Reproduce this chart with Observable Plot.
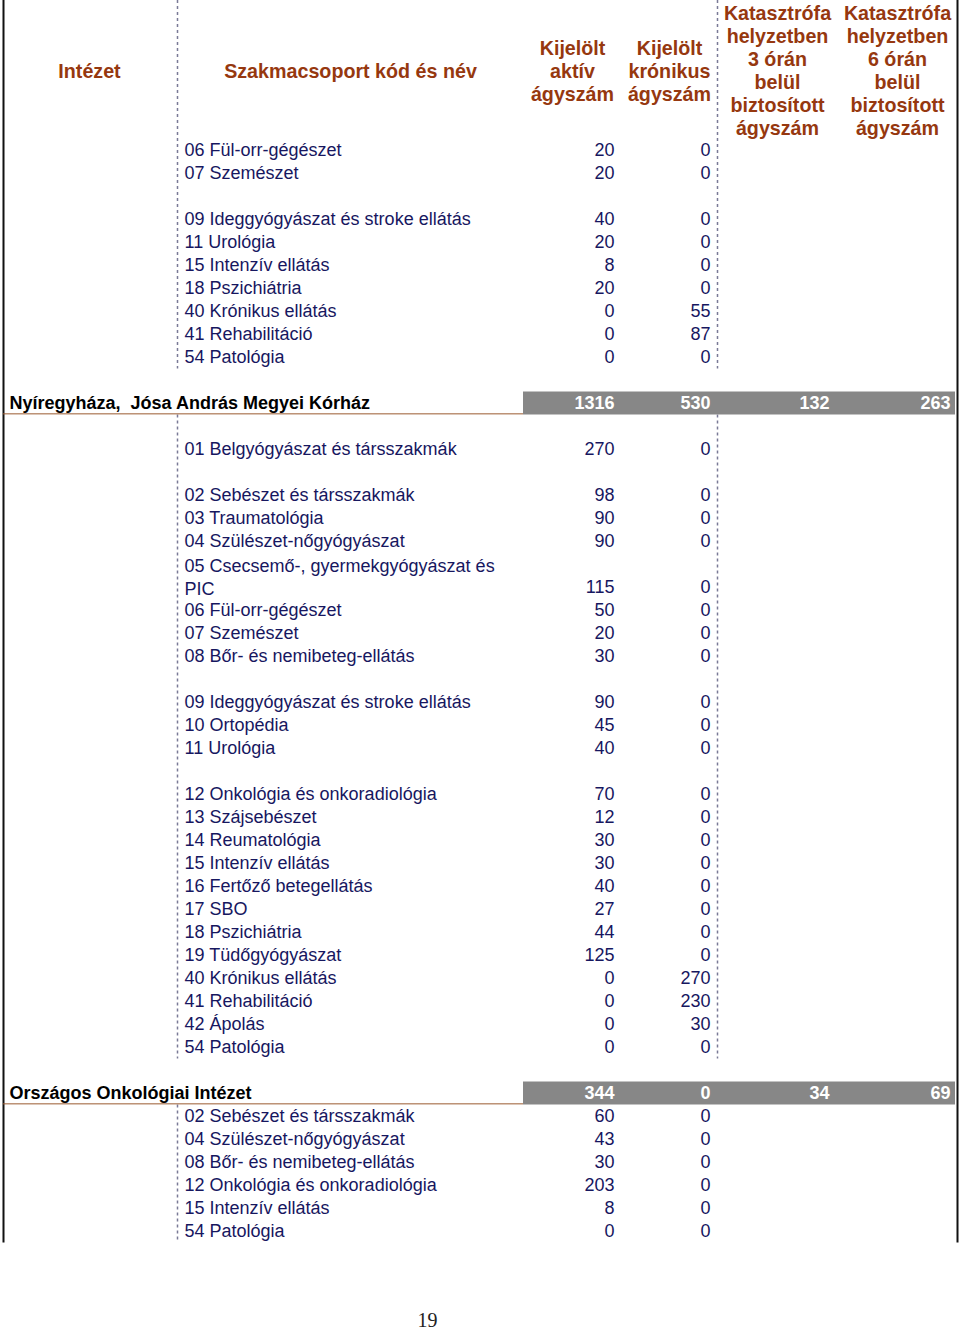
<!DOCTYPE html>
<html><head><meta charset="utf-8">
<script src="https://cdn.jsdelivr.net/npm/d3@7"></script>
<script src="https://cdn.jsdelivr.net/npm/@observablehq/plot@0.6"></script>
<style>
body{margin:0;background:#fff;}
svg text{white-space:pre;}
</style></head><body><div id="chart"></div>
<script>
// ---------- DATA ----------
const fejlecek = ["Intézet", "Szakmacsoport kód és név", "Kijelölt\naktív\nágyszám", "Kijelölt\nkrónikus\nágyszám",
  "Katasztrófa\nhelyzetben\n3 órán\nbelül\nbiztosított\nágyszám", "Katasztrófa\nhelyzetben\n6 órán\nbelül\nbiztosított\nágyszám"];

const intezetek = ["Nyíregyháza,  Jósa András Megyei Kórház", "Országos Onkológiai Intézet"];
const intezetAktiv = [1316, 344];
const intezetKronikus = [530, 0];
const intezetKat3 = [132, 34];
const intezetKat6 = [263, 69];

// "" = empty row of the table
const szakmak1 = ["06 Fül-orr-gégészet", "07 Szemészet", "", "09 Ideggyógyászat és stroke ellátás", "11 Urológia",
  "15 Intenzív ellátás", "18 Pszichiátria", "40 Krónikus ellátás", "41 Rehabilitáció", "54 Patológia"];
const aktiv1 = [20, 20, null, 40, 20, 8, 20, 0, 0, 0];
const kronikus1 = [0, 0, null, 0, 0, 0, 0, 55, 87, 0];

const szakmak2 = ["", "01 Belgyógyászat és társszakmák", "", "02 Sebészet és társszakmák", "03 Traumatológia",
  "04 Szülészet-nőgyógyászat", "05 Csecsemő-, gyermekgyógyászat és PIC", "06 Fül-orr-gégészet", "07 Szemészet",
  "08 Bőr- és nemibeteg-ellátás", "", "09 Ideggyógyászat és stroke ellátás", "10 Ortopédia", "11 Urológia", "",
  "12 Onkológia és onkoradiológia", "13 Szájsebészet", "14 Reumatológia", "15 Intenzív ellátás",
  "16 Fertőző betegellátás", "17 SBO", "18 Pszichiátria", "19 Tüdőgyógyászat", "40 Krónikus ellátás",
  "41 Rehabilitáció", "42 Ápolás", "54 Patológia"];
const aktiv2 = [null, 270, null, 98, 90, 90, 115, 50, 20, 30, null, 90, 45, 40, null, 70, 12, 30, 30, 40, 27, 44, 125, 0, 0, 0, 0];
const kronikus2 = [null, 0, null, 0, 0, 0, 0, 0, 0, 0, null, 0, 0, 0, null, 0, 0, 0, 0, 0, 0, 0, 0, 270, 230, 30, 0];

const szakmak3 = ["02 Sebészet és társszakmák", "04 Szülészet-nőgyógyászat", "08 Bőr- és nemibeteg-ellátás",
  "12 Onkológia és onkoradiológia", "15 Intenzív ellátás", "54 Patológia"];
const aktiv3 = [60, 43, 30, 203, 8, 0];
const kronikus3 = [0, 0, 0, 0, 0, 0];

const oldalszam = "19";

// ---------- LAYOUT ----------
const COL = {left: 3, right: 957, intezetHead: 89, name: 9, divCode: 177, code: 184, codeHead: 350,
  aktiv: 614, aktivHead: 572, kron: 710, kronHead: 669, divKat: 717, kat3: 829, kat3Head: 777,
  kat6: 950, kat6Head: 897, barLeft: 523, barRight: 955, page: 427};
const TOP_ROW = -150 / 23, HEAD_ROW = -80 / 23, PAGE_ROW = 1170 / 23;
const NAVY = "#17175f", BROWN = "#96380f", GREY = "#878787", LINE = "#9a5a30", DOT = "#7a7a96";
const FONT = "Liberation Sans, Arial, Helvetica, sans-serif";

function wrap(s, max) {
  const words = s.split(" "), lines = [];
  let cur = "";
  for (const w of words) {
    if (cur && (cur + " " + w).length > max) { lines.push(cur); cur = w; }
    else cur = cur ? cur + " " + w : w;
  }
  lines.push(cur);
  return lines;
}

const sections = [
  {intezet: null, names: szakmak1, aktiv: aktiv1, kron: kronikus1, katVonal: true},
  {intezet: 0, names: szakmak2, aktiv: aktiv2, kron: kronikus2, katVonal: true},
  {intezet: 1, names: szakmak3, aktiv: aktiv3, kron: kronikus3, katVonal: false}
];

const rows = [], heads = [], segs = [];
let r = 0;
sections.forEach(sec => {
  let start;
  if (sec.intezet == null) start = TOP_ROW;
  else {
    r += 1;
    const i = sec.intezet;
    heads.push({r, name: intezetek[i], aktiv: intezetAktiv[i], kron: intezetKronikus[i], kat3: intezetKat3[i], kat6: intezetKat6[i]});
    start = r + 0.5;
    r += 1;
  }
  sec.names.forEach((n, k) => {
    if (!n) { r += 1; return; }
    const lines = wrap(n, 35);
    const last = r + lines.length - 1;
    rows.push({rText: (r + last) / 2, rVal: last, text: lines.join("\n"), multi: lines.length > 1, aktiv: sec.aktiv[k], kron: sec.kron[k]});
    r = last + 1;
  });
  const end = r - 0.5;
  segs.push({x: COL.divCode, r1: start, r2: end});
  if (sec.katVonal) segs.push({x: COL.divKat, r1: start, r2: end});
});
const lastRow = r - 0.5;
const singleRows = rows.filter(d => !d.multi), multiRows = rows.filter(d => d.multi);

const headerData = fejlecek.map((t, i) => ({t, x: [COL.intezetHead, COL.codeHead, COL.aktivHead, COL.kronHead, COL.kat3Head, COL.kat6Head][i]}));

const chart = Plot.plot({
  width: 960, height: 1330,
  margin: 0,
  x: {domain: [0, 960], range: [0, 960], axis: null},
  y: {domain: [0, 47], range: [150, 150 + 47 * 23], axis: null},
  style: {fontFamily: FONT, background: "white"},
  marks: [
    // borders
    Plot.ruleX([COL.left, COL.right], {x: d => d, y1: () => TOP_ROW, y2: () => lastRow, stroke: "#111", strokeWidth: 2}),
    // dotted separators
    Plot.ruleX(segs, {x: "x", y1: "r1", y2: "r2", stroke: DOT, strokeWidth: 1.5, strokeDasharray: "3,3"}),
    // header
    Plot.text(headerData, {x: "x", y: () => HEAD_ROW, text: "t", fill: BROWN, fontWeight: "bold", fontSize: 19.7, lineHeight: 23 / 19.7}),
    // institution rows
    Plot.rect(heads, {x1: () => COL.barLeft, x2: () => COL.barRight, y1: d => d.r - 0.5, y2: d => d.r + 0.5, fill: GREY}),
    Plot.ruleY(heads, {y: d => d.r + 0.45, x1: () => COL.left, x2: () => COL.barLeft, stroke: LINE, strokeWidth: 1}),
    Plot.text(heads, {x: () => COL.name, y: "r", text: "name", textAnchor: "start", fill: "#000", fontWeight: "bold", fontSize: 18}),
    Plot.text(heads, {x: () => COL.aktiv, y: "r", text: d => String(d.aktiv), textAnchor: "end", fill: "#fff", fontWeight: "bold", fontSize: 18}),
    Plot.text(heads, {x: () => COL.kron, y: "r", text: d => String(d.kron), textAnchor: "end", fill: "#fff", fontWeight: "bold", fontSize: 18}),
    Plot.text(heads, {x: () => COL.kat3, y: "r", text: d => String(d.kat3), textAnchor: "end", fill: "#fff", fontWeight: "bold", fontSize: 18}),
    Plot.text(heads, {x: () => COL.kat6, y: "r", text: d => String(d.kat6), textAnchor: "end", fill: "#fff", fontWeight: "bold", fontSize: 18}),
    // specialty rows
    Plot.text(singleRows, {x: () => COL.code, y: "rText", text: "text", textAnchor: "start", fill: NAVY, fontSize: 18}),
    Plot.text(multiRows, {x: () => COL.code, y: "rText", text: "text", textAnchor: "start", fill: NAVY, fontSize: 18, lineHeight: 23 / 18}),
    Plot.text(rows, {x: () => COL.aktiv, y: "rVal", text: d => String(d.aktiv), textAnchor: "end", fill: NAVY, fontSize: 18}),
    Plot.text(rows, {x: () => COL.kron, y: "rVal", text: d => String(d.kron), textAnchor: "end", fill: NAVY, fontSize: 18}),
    // page number
    Plot.text([oldalszam], {x: () => COL.page, y: () => PAGE_ROW, text: d => d, fill: "#222", fontSize: 20, fontFamily: "Liberation Serif, Times New Roman, serif"})
  ]
});
document.getElementById("chart").appendChild(chart);
</script></body></html>
